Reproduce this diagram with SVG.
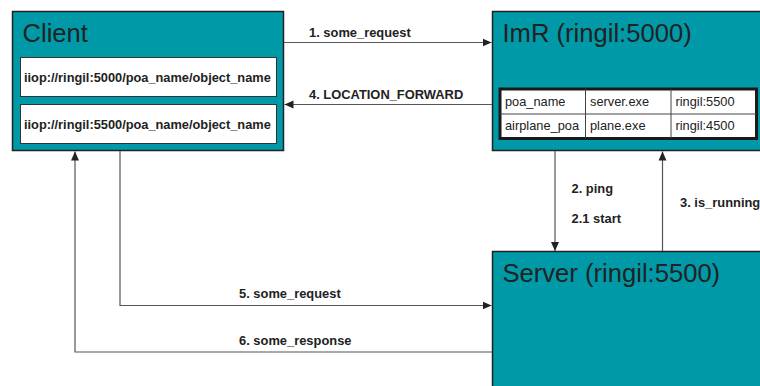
<svg xmlns="http://www.w3.org/2000/svg" width="760" height="386" viewBox="0 0 760 386">
<defs>
<marker id="arr" markerWidth="10" markerHeight="10" refX="9" refY="5" orient="auto" markerUnits="userSpaceOnUse">
<path d="M0,1 L9,5 L0,9 Z" fill="#222"/>
</marker>
<style>
.node{fill:#0099a8;stroke:#222;stroke-width:1.5}
.title{font-family:"Liberation Sans",Arial,sans-serif;font-size:25.6px;fill:#222}
.ref{fill:#fff;stroke:#333;stroke-width:1}
.reft{font-family:"Liberation Sans",Arial,sans-serif;font-size:12.8px;font-weight:bold;fill:#222}
.cell{font-family:"Liberation Sans",Arial,sans-serif;font-size:12.8px;fill:#222}
.lbl{font-family:"Liberation Sans",Arial,sans-serif;font-size:12.9px;font-weight:bold;fill:#222}
.conn{fill:none;stroke:#555;stroke-width:1.2;marker-end:url(#arr)}
</style>
</defs>
<rect width="760" height="386" fill="#fff"/>
<g id="client">
<rect class="node" x="12.5" y="11.5" width="271" height="139"/>
<text class="title" x="22.5" y="42">Client</text>
<rect class="ref" x="20.5" y="57.5" width="256" height="39"/>
<text class="reft" x="24" y="82">iiop://ringil:5000/poa_name/object_name</text>
<rect class="ref" x="20.5" y="104.5" width="256" height="39"/>
<text class="reft" x="24" y="129">iiop://ringil:5500/poa_name/object_name</text>
</g>
<g id="imr">
<rect class="node" x="492.5" y="11.5" width="280" height="139"/>
<text class="title" x="502.5" y="42">ImR (ringil:5000)</text>
<rect x="500" y="89" width="256.5" height="49.5" fill="#fff" stroke="#1a1a1a" stroke-width="3"/>
<line x1="500" y1="114" x2="756" y2="114" stroke="#444" stroke-width="1"/>
<line x1="585.5" y1="89" x2="585.5" y2="138" stroke="#444" stroke-width="1"/>
<line x1="671" y1="89" x2="671" y2="138" stroke="#444" stroke-width="1"/>
<text class="cell" x="505" y="105.5">poa_name</text>
<text class="cell" x="590" y="105.5">server.exe</text>
<text class="cell" x="675.5" y="105.5">ringil:5500</text>
<text class="cell" x="505" y="130">airplane_poa</text>
<text class="cell" x="590" y="130">plane.exe</text>
<text class="cell" x="675.5" y="130">ringil:4500</text>
</g>
<g id="server">
<rect class="node" x="492.5" y="251.5" width="280" height="150"/>
<text class="title" x="502.5" y="282">Server (ringil:5500)</text>
</g>
<g id="connectors">
<path class="conn" d="M284,42.5 H491.5"/>
<path class="conn" d="M492,104.5 H284.5"/>
<path class="conn" d="M555,151 V251"/>
<path class="conn" d="M662.5,251 V151.5"/>
<path class="conn" d="M120,151 V305.5 H491.5"/>
<path class="conn" d="M492,352 H75 V151.5"/>
<text class="lbl" x="309" y="37">1. some_request</text>
<text class="lbl" x="309" y="99">4. LOCATION_FORWARD</text>
<text class="lbl" x="571.5" y="193">2. ping</text>
<text class="lbl" x="571.5" y="223">2.1 start</text>
<text class="lbl" x="680" y="207">3. is_running</text>
<text class="lbl" x="239" y="298">5. some_request</text>
<text class="lbl" x="239" y="345">6. some_response</text>
</g>
</svg>
